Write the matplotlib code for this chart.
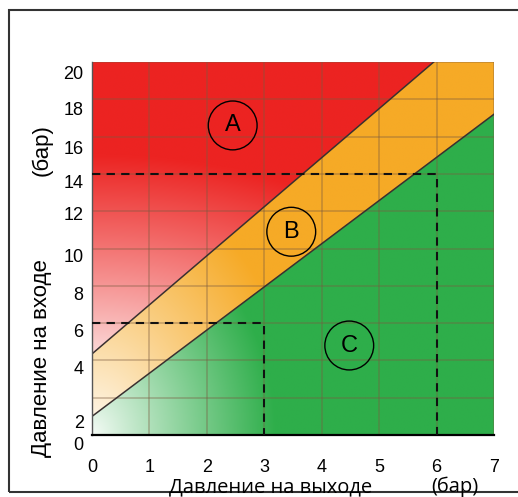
# Диаграмма зон давления (вход / выход)
import numpy as np
import matplotlib.pyplot as plt
import matplotlib.transforms as mtransforms
from matplotlib.patches import Ellipse, Rectangle

# Границы зон (точки линий)
upper_x = [0, 5.95]
upper_y = [4.35, 20]
lower_x = [0, 7]
lower_y = [1.0, 17.2]

# Пунктирные рабочие точки (выход, вход)
dash_x = [3, 6]
dash_y = [6, 14]

# Подписи зон
zone_names = ['A', 'B', 'C']
zone_x = [2.45, 3.47, 4.48]
zone_y = [16.6, 10.9, 4.8]

# Подписи осей
xtick_vals = [0, 1, 2, 3, 4, 5, 6, 7]
ytick_labels = ['0', '2', '4', '6', '8', '10', '12', '14', '16', '18', '20']
ytick_pos = [0, 0.75, 3.6, 5.6, 7.6, 9.65, 11.9, 13.6, 15.4, 17.5, 19.45]

fig = plt.figure(figsize=(5.18, 4.97), dpi=100)
ax = fig.add_axes([0.1776, 0.1247, 0.776, 0.7505])

# Фон: три зоны с растушёвкой к началу координат
nx, ny = 700, 800
gx = np.linspace(0, 7, nx)
gy = np.linspace(0, 20, ny)
X, Y = np.meshgrid(gx, gy)
k_up = (upper_y[1] - upper_y[0]) / (upper_x[1] - upper_x[0])
k_lo = (lower_y[1] - lower_y[0]) / (lower_x[1] - lower_x[0])
up = upper_y[0] + k_up * X
lo = lower_y[0] + k_lo * X

red = np.array([236, 36, 34]) / 255
orange = np.array([246, 170, 38]) / 255
green = np.array([46, 174, 74]) / 255

zone_a = Y >= up
zone_b = (Y < up) & (Y >= lo)
zone_c = Y < lo

col = np.zeros((ny, nx, 3))
col[zone_a] = red
col[zone_b] = orange
col[zone_c] = green

t = np.zeros_like(X)
t_a = np.sqrt((X / 7.0) ** 2 + ((Y - 3.0) / 12.0) ** 2)
t_b = np.sqrt((X / 3.6) ** 2 + (Y / 14.0) ** 2)
t_c = np.sqrt((X / 3.2) ** 2 + (Y / 12.0) ** 2)
t[zone_a] = t_a[zone_a]
t[zone_b] = t_b[zone_b]
t[zone_c] = t_c[zone_c]
a = np.clip(t, 0, 1) ** 0.9
a = np.clip(a * 0.96 + 0.04, 0, 1)[..., None]
img = 1 - a * (1 - col)
ax.imshow(img, extent=[0, 7, 0, 20], origin='lower', aspect='auto',
          interpolation='bilinear', zorder=0)

# Сетка
for v in range(1, 8):
    ax.axvline(v, color='#7a5a40', alpha=0.4, lw=1.2, zorder=1)
for v in range(2, 21, 2):
    ax.axhline(v, color='#7a5a40', alpha=0.4, lw=1.2, zorder=1)

# Линии границ
ax.plot(upper_x, upper_y, color='#3a3030', lw=1.1, zorder=2)
ax.plot(lower_x, lower_y, color='#3a3030', lw=1.1, zorder=2)

# Пунктир
for px, py in zip(dash_x, dash_y):
    ax.plot([0, px, px], [py, py, 0], color='#111111', lw=1.5,
            ls=(0, (4, 3)), zorder=3)

# Кружки с буквами
for name, zx, zy in zip(zone_names, zone_x, zone_y):
    ax.add_patch(Ellipse((zx, zy), 0.85, 2.62, fill=False, ec='black',
                         lw=1, zorder=4))
    ax.text(zx, zy, name, ha='center', va='center', fontsize=17,
            family='Liberation Sans', zorder=5)

ax.set_xticks(xtick_vals)
ax.set_xticklabels([str(v) for v in xtick_vals], family='Liberation Sans',
                   fontsize=13)
ax.set_yticks(ytick_pos)
ax.set_yticklabels(ytick_labels, family='Liberation Sans', fontsize=13)
ax.set_xlim(0, 7)
ax.set_ylim(0, 20)
ax.tick_params(axis='x', length=0, pad=17)
ax.tick_params(axis='y', length=0, pad=6)

# "0" по оси Y чуть ниже линии оси, как в оригинале
lab0 = ax.get_yticklabels()[0]
lab0.set_transform(lab0.get_transform() +
                   mtransforms.ScaledTranslation(0, -6 / 72, fig.dpi_scale_trans))

for s in ['top', 'right']:
    ax.spines[s].set_visible(False)
ax.spines['left'].set_color('#555555')
ax.spines['left'].set_linewidth(1)
ax.spines['bottom'].set_color('black')
ax.spines['bottom'].set_linewidth(1.6)

# Подписи осей
fig.text(0.523, 0.020, 'Давление на выходе', ha='center', va='center',
         fontsize=14.5, family='Open Sans')
fig.text(0.878, 0.020, '(бар)', ha='center', va='center', fontsize=14.5,
         family='Open Sans')
fig.text(0.081, 0.280, 'Давление на входе', ha='center', va='center',
         rotation=90, fontsize=16, family='Liberation Sans')
fig.text(0.081, 0.698, '(бар)', ha='center', va='center', rotation=90,
         fontsize=16, family='Liberation Sans')

# Рамка вокруг рисунка
fig.patches.append(Rectangle((0.0165, 0.010), 1.2, 0.970, fill=False,
                             ec='#333333', lw=1.5,
                             transform=fig.transFigure, figure=fig))

fig.savefig('out.png', dpi=100)
